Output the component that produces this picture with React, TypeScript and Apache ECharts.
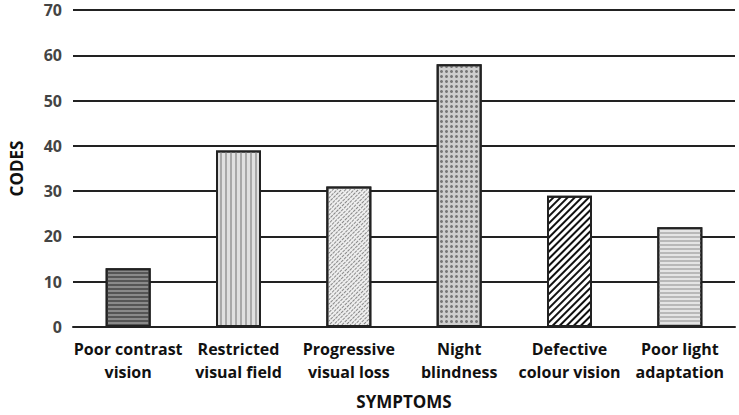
import React, { useEffect, useRef } from "react";
import * as echarts from "echarts";

const categories = [
  "Poor contrast\nvision",
  "Restricted\nvisual field",
  "Progressive\nvisual loss",
  "Night\nblindness",
  "Defective\ncolour vision",
  "Poor light\nadaptation",
];
const values = [13, 39, 31, 58, 29, 22];
const yTicks = [0, 10, 20, 30, 40, 50, 60, 70];

const fills = ["#8a8a8a", "#e0e0e0", "#eeeeee", "#cfcfcf", "#ffffff", "#e4e4e4"];
const decals: any[] = [
  { symbol: "rect", symbolSize: 1, dashArrayX: [1, 0], dashArrayY: [2, 2], color: "#555555" },
  { symbol: "rect", symbolSize: 1, dashArrayX: [2, 3], dashArrayY: [1, 0], color: "#a8a8a8" },
  { symbol: "rect", symbolSize: 1, dashArrayX: [3, 1], dashArrayY: [1, 2], rotation: -Math.PI / 4, color: "#8a8a8a" },
  { symbol: "circle", symbolSize: 1, dashArrayX: [3, 2], dashArrayY: [3, 2], color: "#777777" },
  { symbol: "rect", symbolSize: 1, dashArrayX: [1, 0], dashArrayY: [2, 3], rotation: -Math.PI / 4, color: "#111111" },
  { symbol: "rect", symbolSize: 1, dashArrayX: [1, 0], dashArrayY: [2, 2], color: "#b8b8b8" },
];

const FONT = "'Open Sans', 'DejaVu Sans', sans-serif";

export default function App() {
  const ref = useRef<HTMLDivElement>(null);
  useEffect(() => {
    const chart = echarts.init(ref.current!, null, { renderer: "svg" });
    chart.setOption({
      animation: false,
      backgroundColor: "#ffffff",
      grid: { left: 64, right: 4, top: 10, bottom: 86 },
      xAxis: {
        type: "category",
        data: categories,
        name: "SYMPTOMS",
        nameLocation: "middle",
        nameGap: 66,
        nameTextStyle: { fontFamily: FONT, fontWeight: "bold", fontSize: 17, color: "#111" },
        axisLine: { lineStyle: { color: "#222", width: 2 } },
        axisTick: { show: false },
        axisLabel: {
          interval: 0,
          fontFamily: FONT,
          fontWeight: "bold",
          fontSize: 16,
          lineHeight: 23,
          color: "#111",
          margin: 10,
        },
      },
      yAxis: {
        type: "value",
        min: yTicks[0],
        max: yTicks[yTicks.length - 1],
        interval: 10,
        name: "CODES",
        nameLocation: "middle",
        nameGap: 48,
        nameRotate: 90,
        nameTextStyle: { fontFamily: FONT, fontWeight: "bold", fontSize: 17, color: "#111" },
        axisLine: { show: false },
        axisTick: { show: false },
        axisLabel: { fontFamily: FONT, fontWeight: "bold", fontSize: 16, color: "#444", margin: 11 },
        splitLine: { lineStyle: { color: "#222", width: 2 } },
      },
      series: [
        {
          type: "bar",
          barWidth: 45,
          data: values.map((v, i) => ({
            value: v,
            itemStyle: {
              color: fills[i],
              borderColor: "#222",
              borderWidth: 2,
              decal: decals[i],
            },
          })),
        },
      ],
    });
    return () => chart.dispose();
  }, []);
  return (
    <div
      ref={ref}
      style={{ position: "absolute", left: 0, top: 0, width: 739, height: 415, background: "#fff" }}
    />
  );
}
